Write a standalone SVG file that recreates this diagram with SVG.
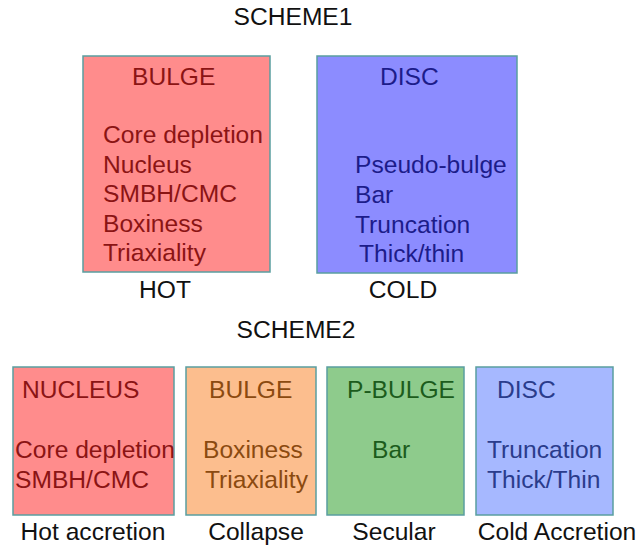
<svg xmlns="http://www.w3.org/2000/svg" width="638" height="550" viewBox="0 0 638 550">
<style>
text{font-family:"Liberation Sans",Arial,sans-serif;font-size:24.6px}
.lbl{fill:#111}
.box{stroke:#5a9ea0;stroke-width:1.5}
.red rect{fill:#ff8c8c}.red text{fill:#8b1414}
.blue rect{fill:#8c8cff}.blue text{fill:#1c1c8a}
.peach rect{fill:#fcbe8e}.peach text{fill:#8b4a10}
.green rect{fill:#8ecb8c}.green text{fill:#1c5c1c}
.lblue rect{fill:#a6b8ff}.lblue text{fill:#2a3c8c}
.mid{text-anchor:middle}
</style>
<rect width="638" height="550" fill="#fff"/>
<text class="lbl mid" x="293" y="25">SCHEME1</text>
<g id="bulge1" class="red">
<rect class="box" x="83" y="56" width="187" height="216"/>
<text x="132" y="85">BULGE</text>
<text x="103" y="143">Core depletion</text>
<text x="103" y="173">Nucleus</text>
<text x="103" y="202">SMBH/CMC</text>
<text x="103" y="232">Boxiness</text>
<text x="103" y="261">Triaxiality</text>
</g>
<g id="disc1" class="blue">
<rect class="box" x="317" y="56" width="200" height="217"/>
<text x="380" y="85">DISC</text>
<text x="355" y="173">Pseudo-bulge</text>
<text x="355" y="203">Bar</text>
<text x="355" y="233">Truncation</text>
<text x="359" y="262">Thick/thin</text>
</g>
<text class="lbl mid" x="165" y="298">HOT</text>
<text class="lbl mid" x="403" y="298">COLD</text>
<text class="lbl mid" x="296" y="338">SCHEME2</text>
<g id="nucleus2" class="red">
<rect class="box" x="13" y="367" width="161" height="148"/>
<text x="22" y="398">NUCLEUS</text>
<text x="15" y="458">Core depletion</text>
<text x="15" y="488">SMBH/CMC</text>
</g>
<g id="bulge2" class="peach">
<rect class="box" x="186" y="367" width="130" height="148"/>
<text x="209" y="398">BULGE</text>
<text x="203" y="458">Boxiness</text>
<text x="205" y="488">Triaxiality</text>
</g>
<g id="pbulge2" class="green">
<rect class="box" x="327" y="367" width="137" height="148"/>
<text x="347" y="398">P-BULGE</text>
<text x="372" y="458">Bar</text>
</g>
<g id="disc2" class="lblue">
<rect class="box" x="476" y="367" width="137" height="148"/>
<text x="497" y="398">DISC</text>
<text x="487" y="458">Truncation</text>
<text x="487" y="488">Thick/Thin</text>
</g>
<g id="connectors"></g>
<text class="lbl mid" x="93" y="540">Hot accretion</text>
<text class="lbl mid" x="256" y="540">Collapse</text>
<text class="lbl mid" x="394" y="540">Secular</text>
<text class="lbl mid" x="557" y="540">Cold Accretion</text>
</svg>
